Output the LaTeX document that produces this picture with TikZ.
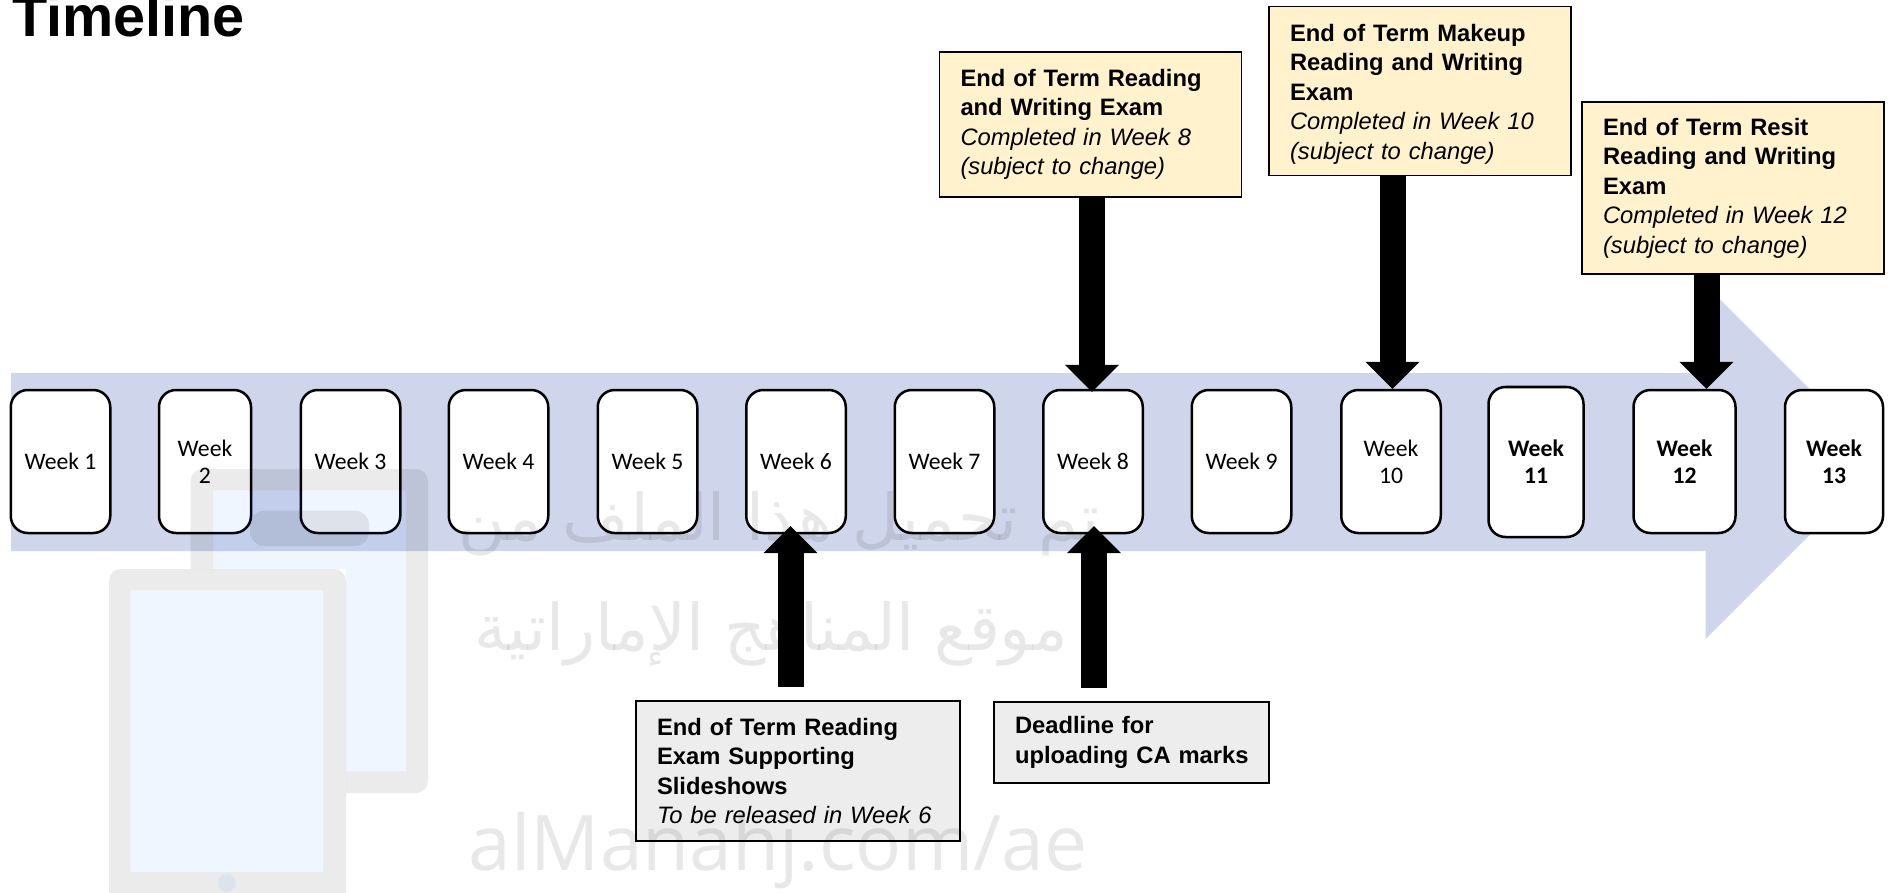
\documentclass[tikz,border=0pt]{standalone}
\usepackage{fontspec}
\setmainfont{Liberation Sans}
\newfontfamily\calibrifont{Carlito}
\newfontfamily\arabicfont[Script=Arabic]{DejaVu Sans}
\newfontfamily\wmfont{Open Sans}
\TeXXeTstate=1
\usetikzlibrary{arrows.meta}
\definecolor{bandblue}{HTML}{CFD5EA}
\definecolor{calloutyellow}{HTML}{FFF2CC}
\definecolor{calloutgrey}{HTML}{EDEDED}
\tikzset{
  weekbox/.style={draw=black,fill=white,line width=2.5pt,rounded corners=17pt,inner sep=0pt,align=center,
    font=\calibrifont\fontsize{23.7}{27.2}\selectfont},
  boldweek/.style={weekbox,font=\calibrifont\bfseries\fontsize{23.7}{27.2}\selectfont},
  callout/.style={draw=black,line width=1.6pt,inner xsep=21pt,inner ysep=0pt,align=left,
    font=\fontsize{23.75}{29.5}\selectfont},
  examcallout/.style={callout,fill=calloutyellow},
  infocallout/.style={callout,fill=calloutgrey},
  blockarrow/.style={line width=26pt,draw=black,-{Triangle[width=52pt,length=27pt]}},
  wmframe/.style={fill=black,fill opacity=0.08,draw=none},
  wmscreen/.style={fill=blue!60!cyan,fill opacity=0.06,draw=none},
  wmtext/.style={text=black,text opacity=0.09,inner sep=0pt}
}
\begin{document}
\begin{tikzpicture}[x=1pt,y=-1pt]
\useasboundingbox (0,0) rectangle (1891,893);
\begin{scope}
\clip (0,0) rectangle (1891,893);
% title
\node[anchor=base west,inner sep=0pt,font=\bfseries\fontsize{57.6}{60}\selectfont] (title) at (12,36.5) {Timeline};
% band arrow
\fill[bandblue] (11,373) -- (1705.5,373) -- (1705.5,285) -- (1882.5,462) -- (1705.5,639) -- (1705.5,551) -- (11,551) -- cycle;
% weeks
\node[weekbox,minimum width=99.5pt,minimum height=143pt] (w1) at (60.5,461.5) {Week 1};
\node[weekbox,minimum width=92pt,minimum height=143pt] (w2) at (205,461.5) {Week\\2};
\node[weekbox,minimum width=99.5pt,minimum height=143pt] (w3) at (350.5,461.5) {Week 3};
\node[weekbox,minimum width=99.5pt,minimum height=143pt] (w4) at (498.5,461.5) {Week 4};
\node[weekbox,minimum width=99.5pt,minimum height=143pt] (w5) at (647.5,461.5) {Week 5};
\node[weekbox,minimum width=99.5pt,minimum height=143pt] (w6) at (796,461.5) {Week 6};
\node[weekbox,minimum width=99.5pt,minimum height=143pt] (w7) at (944.5,461.5) {Week 7};
\node[weekbox,minimum width=99.5pt,minimum height=143pt] (w8) at (1093,461.5) {Week 8};
\node[weekbox,minimum width=99.5pt,minimum height=143pt] (w9) at (1241.5,461.5) {Week 9};
\node[weekbox,minimum width=99.5pt,minimum height=143pt] (w10) at (1391,461.5) {Week\\10};
\node[boldweek,minimum width=95pt,minimum height=150pt] (w11) at (1536,462) {Week\\11};
\node[boldweek,minimum width=102pt,minimum height=143pt] (w12) at (1684.5,461.5) {Week\\12};
\node[boldweek,minimum width=98pt,minimum height=143pt] (w13) at (1834,461.5) {Week\\13};
% callouts
\node[examcallout,text width=260pt,minimum height=145pt] (e8) at (1090.5,124.5) {\textbf{End of Term Reading}\\\textbf{and Writing Exam}\\\textit{Completed in Week 8}\\\textit{(subject to change)}};
\node[examcallout,text width=260pt,minimum height=169pt] (e10) at (1420,91) {\rule{0pt}{23pt}\textbf{End of Term Makeup}\\\textbf{Reading and Writing}\\\textbf{Exam}\\\textit{Completed in Week 10}\\\textit{(subject to change)}};
\node[examcallout,text width=260pt,minimum height=172pt] (e12) at (1733,188) {\textbf{End of Term Resit}\\\textbf{Reading and Writing}\\\textbf{Exam}\\\textit{Completed in Week 12}\\\textit{(subject to change)}};
\node[infocallout,text width=282pt,minimum height=140pt] (i6) at (798,771) {\textbf{End of Term Reading}\\\textbf{Exam Supporting}\\\textbf{Slideshows}\\\textit{To be released in Week 6}};
\node[infocallout,text width=233pt,minimum height=81pt] (i8) at (1131.5,742.5) {\textbf{Deadline for}\\\mbox{\textbf{uploading CA marks}}};
% arrow ends
\coordinate (t8) at (1092,392);
\coordinate (t10) at (1392.5,389);
\coordinate (t12) at (1706.5,389);
\coordinate (t6) at (790.5,526);
\coordinate (s6) at (790.5,687);
\coordinate (t8u) at (1094,526);
\coordinate (s8u) at (1094,688);
% connectors
\draw[blockarrow] (e8.south -| t8) -- (t8);
\draw[blockarrow] (e10.south -| t10) -- (t10);
\draw[blockarrow] (e12.south -| t12) -- (t12);
\draw[blockarrow] (s6) -- (t6);
\draw[blockarrow] (s8u) -- (t8u);
% watermark: tablets
\fill[wmframe,even odd rule]
  [rounded corners=12pt] (109,569) rectangle (346,905)
  [sharp corners] (130.6,590.7) rectangle (323,872);
\fill[wmscreen] (130.6,590.7) rectangle (323,872);
\fill[wmscreen] (227,883) circle (9pt);
\begin{scope}
\clip (0,0) -- (1891,0) -- (1891,893) -- (346,893) -- (346,569) -- (0,569) -- cycle;
\fill[wmframe,even odd rule]
  [rounded corners=12pt] (190.6,469) rectangle (428,793)
  [sharp corners] (213,490.7) rectangle (406,771.7);
\fill[wmscreen] (213,490.7) rectangle (406,771.7);
\end{scope}
\fill[wmframe,rounded corners=14pt] (250,510.7) rectangle (369,546);
% watermark: text
\node[wmtext,font=\arabicfont\fontsize{64.5}{70}\selectfont] (wm1) at (779,524) {\beginR تم تحميل هذا الملف من\endR};
\node[wmtext,font=\arabicfont\fontsize{64.5}{70}\selectfont] (wm2) at (771,634) {\beginR موقع المناهج الإماراتية\endR};
\node[wmtext,font=\wmfont\fontsize{76.7}{80}\selectfont] (wm3) at (778,851) {alManahj.com/ae};
\end{scope}
\end{tikzpicture}
\end{document}
